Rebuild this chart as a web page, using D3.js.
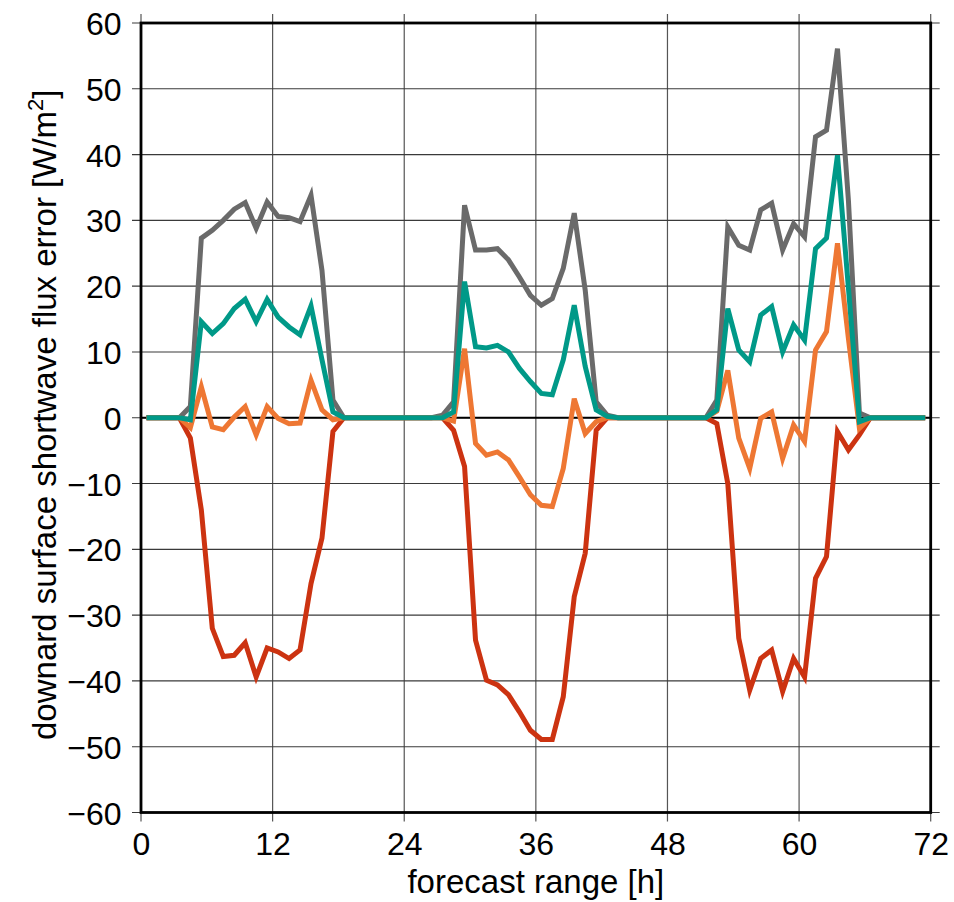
<!DOCTYPE html>
<html>
<head>
<meta charset="utf-8">
<script src="https://cdn.jsdelivr.net/npm/d3@7"></script>
<style>
  html, body { margin: 0; padding: 0; background: #fff; }
  svg { display: block; }
  text { font-family: "Liberation Sans", Arial, Helvetica, sans-serif; fill: #000; }
</style>
</head>
<body>
<svg id="chart" width="954" height="902"></svg>
<script>
// forecast hours (values sit at mid-hour)
const hours = [0.5,1.5,2.5,3.5,4.5,5.5,6.5,7.5,8.5,9.5,10.5,11.5,12.5,13.5,14.5,15.5,16.5,17.5,18.5,19.5,20.5,21.5,22.5,23.5,
  24.5,25.5,26.5,27.5,28.5,29.5,30.5,31.5,32.5,33.5,34.5,35.5,36.5,37.5,38.5,39.5,40.5,41.5,42.5,43.5,44.5,45.5,46.5,47.5,
  48.5,49.5,50.5,51.5,52.5,53.5,54.5,55.5,56.5,57.5,58.5,59.5,60.5,61.5,62.5,63.5,64.5,65.5,66.5,67.5,68.5,69.5,70.5,71.5];

const grayValues = [0,0,0,0,1.7,27.3,28.5,30.0,31.7,32.7,28.8,32.8,30.6,30.4,29.8,33.8,22.4,2.7,0,
  0,0,0,0,0,0,0,0,
  0.4,2.4,32.3,25.5,25.5,25.7,24.0,21.4,18.6,17.1,18.1,22.7,31.1,19.4,2.4,0.4,
  0,0,0,0,0,0,0,0,
  0,2.7,29.0,26.2,25.5,31.6,32.6,25.5,29.5,27.5,42.7,43.7,56.1,33.0,0.7,0,
  0,0,0,0,0];

const tealValues = [0,0,0,0,-0.3,14.6,12.8,14.3,16.6,18.0,14.6,18.0,15.3,13.8,12.6,17.0,8.8,0.9,0,
  0,0,0,0,0,0,0,0,
  0,0.9,20.7,10.8,10.6,11.0,10.0,7.5,5.5,3.7,3.5,8.8,17.1,7.8,1.2,0.2,
  0,0,0,0,0,0,0,0,
  0,1.2,16.6,10.3,8.5,15.6,16.9,10.0,14.1,11.8,25.7,27.3,39.9,19.7,-0.6,0,
  0,0,0,0,0];

const orangeValues = [0,0,0,0,-1.5,4.7,-1.4,-1.8,0.1,1.7,-2.6,1.7,-0.1,-0.9,-0.8,5.7,1.2,-0.3,0,
  0,0,0,0,0,0,0,0,
  0,-0.5,10.5,-3.9,-5.7,-5.2,-6.4,-9.0,-11.7,-13.3,-13.5,-7.7,2.9,-2.4,-0.6,0,
  0,0,0,0,0,0,0,0,
  0,1.0,7.2,-3.1,-7.7,-0.1,0.9,-6.2,-1.1,-3.6,10.3,13.1,26.5,12.0,-1.6,0,
  0,0,0,0,0];

const redValues = [0,0,0,0,-3.1,-14.0,-32.0,-36.3,-36.1,-34.2,-39.4,-35.0,-35.6,-36.6,-35.3,-25.2,-18.3,-2.1,0,
  0,0,0,0,0,0,0,0,
  0,-1.9,-7.4,-33.8,-39.9,-40.6,-42.1,-44.7,-47.5,-48.9,-48.9,-42.4,-27.2,-20.6,-1.9,0,
  0,0,0,0,0,0,0,0,
  0,-0.9,-10.0,-33.5,-41.4,-36.6,-35.3,-41.6,-36.6,-39.4,-24.4,-21.1,-2.1,-4.9,-2.6,0,
  0,0,0,0,0];

const xTicks = [0,12,24,36,48,60,72];
const yTicks = [-60,-50,-40,-30,-20,-10,0,10,20,30,40,50,60];

const seriesList = [
  {name: "gray", values: grayValues, color: "#6a6a6a"},
  {name: "red", values: redValues, color: "#cc3311"},
  {name: "orange", values: orangeValues, color: "#ee7733"},
  {name: "teal", values: tealValues, color: "#009988"}
];

const svg = d3.select("#chart");
const margin = {left: 141, top: 23, right: 954 - 930.7, bottom: 902 - 812.5};
const W = 954 - margin.left - margin.right;
const H = 902 - margin.top - margin.bottom;
const g = svg.append("g").attr("transform", `translate(${margin.left},${margin.top})`);

const x = d3.scaleLinear().domain([0, 72]).range([0, W]);
const y = d3.scaleLinear().domain([-60, 60]).range([H, 0]);
const ext = 9;

// vertical gridlines (with outward ticks)
g.append("g").selectAll("line").data(xTicks).join("line")
  .attr("x1", d => x(d)).attr("x2", d => x(d))
  .attr("y1", -ext).attr("y2", H + ext)
  .attr("stroke", "#555").attr("stroke-width", 1.2);

// horizontal gridlines (with outward ticks)
g.append("g").selectAll("line").data(yTicks).join("line")
  .attr("x1", -ext).attr("x2", W + ext)
  .attr("y1", d => y(d)).attr("y2", d => y(d))
  .attr("stroke", "#3a3a3a").attr("stroke-width", 1.1);

// zero line
g.append("line").attr("x1", 0).attr("x2", W).attr("y1", y(0)).attr("y2", y(0))
  .attr("stroke", "#000").attr("stroke-width", 2);

// series
const line = d3.line().x((d, i) => x(hours[i])).y(d => y(d));
g.append("g").selectAll("path").data(seriesList).join("path")
  .attr("d", s => line(s.values))
  .attr("fill", "none")
  .attr("stroke", s => s.color)
  .attr("stroke-width", 5)
  .attr("stroke-linejoin", "miter")
  .attr("stroke-miterlimit", 4);

// frame
g.append("rect").attr("x", 0).attr("y", 0).attr("width", W).attr("height", H)
  .attr("fill", "none").attr("stroke", "#000").attr("stroke-width", 2.8);

// axes labels via d3 axes (ticks drawn as gridline extensions, only text used)
const fmt = d3.format("d");
const xAxis = d3.axisBottom(x).tickValues(xTicks).tickFormat(fmt).tickSize(0).tickPadding(0);
const xg = g.append("g").attr("transform", `translate(0,${H})`).call(xAxis);
xg.select(".domain").remove();
xg.selectAll("text").attr("font-size", 32).attr("dy", null).attr("y", 42.5)
  .style("font-family", "'Liberation Sans', Arial, sans-serif").attr("fill", "#000");

const yAxis = d3.axisLeft(y).tickValues(yTicks).tickFormat(fmt).tickSize(0).tickPadding(0);
const yg = g.append("g").call(yAxis);
yg.select(".domain").remove();
yg.selectAll("text").attr("font-size", 32).attr("x", -19.5).attr("dy", "0.36em")
  .style("font-family", "'Liberation Sans', Arial, sans-serif").attr("fill", "#000");

// axis titles
svg.append("text")
  .attr("x", margin.left + W / 2).attr("y", 893)
  .attr("text-anchor", "middle").attr("font-size", 33)
  .text("forecast range [h]");

const yl = svg.append("text")
  .attr("transform", `translate(56,${margin.top + H / 2 - 3}) rotate(-90)`)
  .attr("text-anchor", "middle").attr("font-size", 33);
yl.append("tspan").text("downard surface shortwave flux error [W/m");
yl.append("tspan").attr("font-size", 22).attr("dy", -13).text("2");
yl.append("tspan").attr("dy", 13).text("]");
</script>
</body>
</html>
